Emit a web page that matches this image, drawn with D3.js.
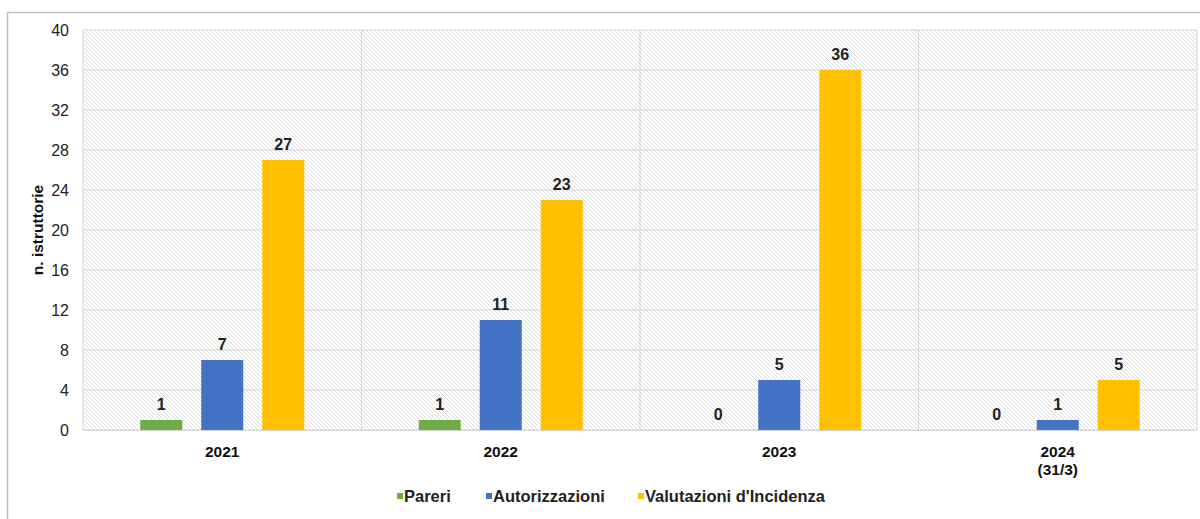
<!DOCTYPE html>
<html><head><meta charset="utf-8">
<script src="https://cdn.jsdelivr.net/npm/d3@7"></script>
<style>body{margin:0;background:#fff}svg{display:block;font-family:"Liberation Sans",Arial,sans-serif}</style>
</head><body><svg id="c" width="1200" height="519"></svg>
<script>
const categories = ["2021", "2022", "2023", "2024\n(31/3)"];
const seriesNames = ["Pareri", "Autorizzazioni", "Valutazioni d'Incidenza"];
const pareri = [1, 1, 0, 0];
const autorizzazioni = [7, 11, 5, 1];
const valutazioni = [27, 23, 36, 5];
const yTicks = [0, 4, 8, 12, 16, 20, 24, 28, 32, 36, 40];
const colors = ["#70ad47", "#4472c4", "#ffc000"];
const series = [pareri, autorizzazioni, valutazioni];

const svg = d3.select("#c");
const m = {l: 83, t: 30, r: 1197, b: 430};
const x = d3.scaleBand().domain(categories).range([m.l, m.r]);
const y = d3.scaleLinear().domain([0, 40]).range([m.b, m.t]);
const barW = 42, step = 61;

// outer border
svg.append("rect").attr("x", 7.5).attr("y", 12.5).attr("width", 1200).attr("height", 520)
  .attr("fill", "none").attr("stroke", "#bfbfbf").attr("stroke-width", 1.5);

// hatch pattern
const defs = svg.append("defs");
const pat = defs.append("pattern").attr("id", "hatch").attr("patternUnits", "userSpaceOnUse")
  .attr("width", 4).attr("height", 4);
pat.append("rect").attr("width", 4).attr("height", 4).attr("fill", "#fff");
pat.append("path").attr("d", "M-1,-1 L5,5 M-1,3 L1,5 M3,-1 L5,1").attr("stroke", "#dcdcdc").attr("stroke-width", 1);
svg.append("rect").attr("x", m.l).attr("y", m.t).attr("width", m.r - m.l).attr("height", m.b - m.t)
  .attr("fill", "url(#hatch)");

// grid
svg.append("g").selectAll("line").data(yTicks).join("line")
  .attr("x1", m.l).attr("x2", m.r).attr("y1", d => y(d)).attr("y2", d => y(d))
  .attr("stroke", "#d6d6d6").attr("stroke-width", 1);
svg.append("g").selectAll("line").data(d3.range(categories.length + 1)).join("line")
  .attr("x1", i => m.l + i * x.bandwidth()).attr("x2", i => m.l + i * x.bandwidth())
  .attr("y1", m.t).attr("y2", m.b).attr("stroke", "#d6d6d6").attr("stroke-width", 1);

// y axis
const ya = svg.append("g").attr("transform", `translate(${m.l},0)`)
  .call(d3.axisLeft(y).tickValues(yTicks).tickSize(0).tickPadding(14));
ya.select(".domain").remove();
ya.selectAll("text").attr("font-size", 16).attr("fill", "#222").attr("font-family", "Liberation Sans, Arial, sans-serif");

svg.append("text").attr("transform", "translate(43,230) rotate(-90)").attr("text-anchor", "middle")
  .attr("font-size", 15.5).attr("font-weight", "bold").attr("fill", "#111").text("n. istruttorie");

// x baseline
svg.append("line").attr("x1", m.l).attr("x2", m.r).attr("y1", m.b + 0.5).attr("y2", m.b + 0.5).attr("stroke", "#d6d6d6");

// bars
series.forEach((s, si) => {
  const g = svg.append("g");
  g.selectAll("rect").data(s).join("rect")
    .attr("x", (d, i) => x(categories[i]) + x.bandwidth() / 2 + (si - 1) * step - barW / 2)
    .attr("y", d => y(d)).attr("width", barW).attr("height", d => y(0) - y(d))
    .attr("fill", colors[si]);
  g.selectAll("text").data(s).join("text")
    .attr("x", (d, i) => x(categories[i]) + x.bandwidth() / 2 + (si - 1) * step)
    .attr("y", d => y(d) - 10).attr("text-anchor", "middle")
    .attr("font-size", 16).attr("font-weight", "bold").attr("fill", "#222").text(d => d);
});

// x labels
const xl = svg.append("g").selectAll("text").data(categories).join("text")
  .attr("x", d => x(d) + x.bandwidth() / 2).attr("y", 457).attr("text-anchor", "middle")
  .attr("font-size", 15.5).attr("font-weight", "bold").attr("fill", "#111");
xl.each(function(d) {
  const parts = d.split("\n");
  d3.select(this).selectAll("tspan").data(parts).join("tspan")
    .attr("x", x(d) + x.bandwidth() / 2).attr("dy", (p, i) => i ? 18 : 0).text(p => p);
});

// legend
const legX = [397, 486, 638];
const lg = svg.append("g");
seriesNames.forEach((n, i) => {
  lg.append("rect").attr("x", legX[i]).attr("y", 493).attr("width", 6).attr("height", 6).attr("fill", colors[i]);
  lg.append("text").attr("x", legX[i] + 7).attr("y", 502).attr("font-size", 16.5).attr("font-weight", "bold")
    .attr("fill", "#222").text(n);
});
</script></body></html>
